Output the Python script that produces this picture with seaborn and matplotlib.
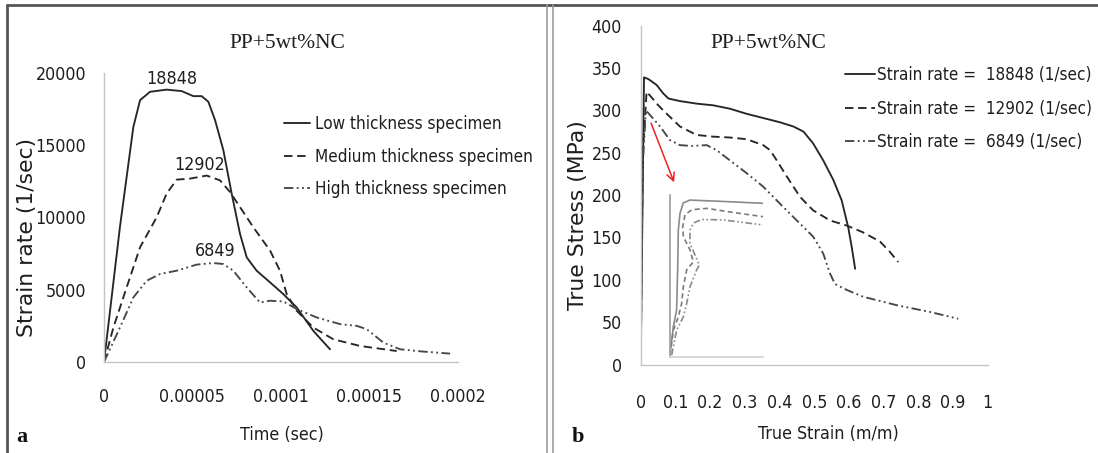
import matplotlib
matplotlib.use("Agg")
import matplotlib.pyplot as plt
from matplotlib.lines import Line2D
from matplotlib.font_manager import FontProperties, fontManager
from matplotlib.textpath import TextPath
import seaborn as sns

# ---------------- data ----------------
title_text = "PP+5wt%NC"

# panel a : strain rate vs time
time_low = [0, 9.0e-6, 1.66e-5, 2.04e-5, 2.6e-5, 3.54e-5, 4.39e-5, 5.05e-5, 5.52e-5, 5.9e-5,
            6.28e-5, 6.75e-5, 7.22e-5, 7.69e-5, 8.07e-5, 8.63e-5, 9.39e-5, 1.014e-4, 1.09e-4,
            1.184e-4, 1.278e-4]
rate_low = [0, 9330, 16270, 18120, 18700, 18848, 18750, 18400, 18400, 18010,
            16740, 14650, 11650, 8870, 7240, 6320, 5510, 4700, 3770, 2150, 880]

time_med = [0, 5.3e-6, 1.28e-5, 2.04e-5, 2.98e-5, 3.54e-5, 4.11e-5, 4.86e-5, 5.81e-5, 6.56e-5,
            7.13e-5, 7.69e-5, 8.44e-5, 9.39e-5, 9.95e-5, 1.033e-4, 1.09e-4, 1.184e-4, 1.297e-4,
            1.448e-4, 1.655e-4]
rate_med = [0, 2380, 5160, 7940, 10020, 11650, 12620, 12690, 12902, 12570,
            11760, 10720, 9330, 7710, 6320, 4700, 3540, 2380, 1570, 1110, 760]

time_high = [0, 9.0e-6, 1.66e-5, 2.41e-5, 3.17e-5, 4.11e-5, 5.24e-5, 6.18e-5, 6.75e-5, 7.31e-5,
             8.07e-5, 8.82e-5, 9.39e-5, 1.014e-4, 1.09e-4, 1.203e-4, 1.335e-4, 1.429e-4, 1.486e-4,
             1.58e-4, 1.674e-4, 1.806e-4, 1.957e-4]
rate_high = [0, 2380, 4470, 5620, 6090, 6320, 6740, 6849, 6780, 6320,
             5160, 4120, 4240, 4190, 3660, 3080, 2620, 2500, 2270, 1340, 880, 720, 580]

labels_a = ["Low thickness specimen", "Medium thickness specimen", "High thickness specimen"]
peak_labels = ["18848", "12902", "6849"]
peak_label_time = [3.86e-5, 5.38e-5, 6.28e-5]
peak_label_rate = [19580, 13610, 7710]
xticks_a = [0, 0.00005, 0.0001, 0.00015, 0.0002]
xticklabels_a = ["0", "0.00005", "0.0001", "0.00015", "0.0002"]
yticks_a = [0, 5000, 10000, 15000, 20000]

# panel b : true stress vs true strain
strain_18848 = [0, 0.0095, 0.022, 0.046, 0.065, 0.08, 0.113, 0.161, 0.209, 0.257, 0.305, 0.353,
                0.401, 0.44, 0.469, 0.497, 0.526, 0.555, 0.579, 0.598, 0.608, 0.618]
stress_18848 = [0, 339, 337, 330, 320, 314, 311, 308, 306, 302, 296, 291,
                286, 281, 275, 261, 241, 218, 194, 162, 139, 113]

strain_12902 = [0, 0.006, 0.017, 0.03, 0.046, 0.065, 0.113, 0.161, 0.209, 0.257, 0.305, 0.353,
                0.373, 0.392, 0.421, 0.459, 0.497, 0.546, 0.594, 0.641, 0.69, 0.718, 0.742]
stress_12902 = [0, 250, 322, 316, 308, 300, 281, 271, 269, 268, 266, 259,
                253, 241, 222, 198, 182, 170, 164, 156, 145, 133, 121]

strain_6849 = [0, 0.005, 0.015, 0.056, 0.084, 0.113, 0.147, 0.19, 0.219, 0.257, 0.305, 0.353,
               0.401, 0.45, 0.497, 0.526, 0.546, 0.56, 0.594, 0.641, 0.738, 0.834, 0.915]
stress_6849 = [0, 230, 300, 281, 265, 259, 258, 259, 253, 241, 226, 210,
               190, 170, 151, 131, 107, 95, 88, 80, 70, 62, 54]

labels_b = ["Strain rate =  18848 (1/sec)", "Strain rate =  12902 (1/sec)",
            "Strain rate =  6849 (1/sec)"]
xticks_b = [0, 0.1, 0.2, 0.3, 0.4, 0.5, 0.6, 0.7, 0.8, 0.9, 1.0]
xticklabels_b = ["0", "0.1", "0.2", "0.3", "0.4", "0.5", "0.6", "0.7", "0.8", "0.9", "1"]
yticks_b = [0, 50, 100, 150, 200, 250, 300, 350, 400]

# inset (zoom of the elastic region, relative units)
inset_x_solid = [0, 0.036, 0.071, 0.082, 0.089, 0.107, 0.143, 0.214, 0.571, 1.0]
inset_y_solid = [3, 65, 101, 188, 274, 310, 333, 339, 336, 332]
inset_x_dash = [0, 0.036, 0.089, 0.125, 0.143, 0.179, 0.25, 0.214, 0.143, 0.136, 0.161, 0.232,
                0.393, 0.75, 1.0]
inset_y_dash = [3, 57, 86, 115, 151, 188, 205, 231, 260, 281, 307, 318, 321, 310, 303]
inset_x_dd = [0.018, 0.071, 0.143, 0.179, 0.214, 0.286, 0.314, 0.268, 0.214, 0.214, 0.25, 0.34,
              0.571, 1.0]
inset_y_dd = [3, 57, 86, 115, 151, 188, 198, 220, 245, 274, 289, 297, 296, 285]
inset_yticks = [0, 50, 100, 150, 200, 250, 300, 350]

# red arrow (data coords of panel b)
arrow_tail = (0.027, 288)
arrow_head = (0.099, 212)

# ---------------- style ----------------
sns.set_theme(style="white")
plt.rcParams["font.family"] = ["Liberation Sans", "DejaVu Sans"]
plt.rcParams["axes.unicode_minus"] = False


def find_narrow():
    best = None
    for f in fontManager.ttflist:
        nm = f.name.lower()
        fn = f.fname.lower()
        bad = any(k in fn for k in ("bold", "italic", "oblique", "mono"))
        if bad:
            continue
        if "liberation sans narrow" in nm or "liberationsansnarrow" in fn:
            return f.fname
        if ("condensed" in fn or "narrow" in fn or "condensed" in nm) and best is None:
            best = f.fname
    return best


narrow_path = find_narrow()
if narrow_path:
    BASE_FP = FontProperties(fname=narrow_path)
else:
    BASE_FP = FontProperties(family="Liberation Sans")


def calib(text, target_px, prop, cap=None):
    tp = TextPath((0, 0), text, size=100, prop=prop)
    s = 100 * (target_px * 0.72) / tp.get_extents().width
    return min(s, cap) if cap else s


TICK_FS = calib("20000", 48.7, BASE_FP, cap=16)
LEG_FS = calib("Strain rate =  18848 (1/sec)", 213, BASE_FP, cap=16)
FS_PX = TICK_FS * 100 / 72
LEG_PX = LEG_FS * 100 / 72


def fp(size=None):
    p = BASE_FP.copy()
    p.set_size(size if size else TICK_FS)
    return p


YLAB_FP = FontProperties(family=["DejaVu Sans"])
YLAB_FS = calib("Strain rate (1/sec)", 195, YLAB_FP)

W, H = 1098, 453
fig = plt.figure(figsize=(W / 100, H / 100), dpi=100)
fig.patch.set_facecolor("white")


def fr(px, py, w, h):
    return [px / W, 1 - (py + h) / H, w / W, h / H]


AX_COL = "#c4c4c4"
TXT_COL = "#1e1e1e"
LINE_COL = "#262626"

styles = [
    dict(color=LINE_COL, linestyle="-", lw=1.35),
    dict(color=LINE_COL, linestyle=(0, (4.5, 2.5)), lw=1.35),
    dict(color="#474747", linestyle=(0, (5, 1.8, 1, 1.8, 1, 1.8)), lw=1.35),
]


def style_axes(ax, xpad_px, ypad_px):
    for s in ["top", "right"]:
        ax.spines[s].set_visible(False)
    for s in ["left", "bottom"]:
        ax.spines[s].set_color(AX_COL)
        ax.spines[s].set_linewidth(1.0)
    ax.tick_params(axis="both", direction="out", length=5, width=1, color=AX_COL,
                   labelcolor=TXT_COL)
    ax.tick_params(axis="x", pad=xpad_px * 0.72)
    ax.tick_params(axis="y", pad=ypad_px * 0.72)
    for lab in ax.get_xticklabels() + ax.get_yticklabels():
        lab.set_fontproperties(fp())
    ax.set_facecolor("white")


# ---------------- panel a ----------------
axL = fig.add_axes(fr(104, 73, 353.7, 289))
series_a = [(time_low, rate_low), (time_med, rate_med), (time_high, rate_high)]
for (xs, ys), lab, st in zip(series_a, labels_a, styles):
    sns.lineplot(x=xs, y=ys, ax=axL, sort=False, estimator=None, label=lab, **st)
axL.set_xlim(0, 0.0002)
axL.set_ylim(0, 20000)
axL.set_xticks(xticks_a)
axL.set_xticklabels(xticklabels_a)
axL.set_yticks(yticks_a)
axL.set_yticklabels([str(v) for v in yticks_a])
style_axes(axL, xpad_px=FS_PX * 0.1 + 17, ypad_px=11)
for lab, tx, ty in zip(peak_labels, peak_label_time, peak_label_rate):
    axL.text(tx, ty, lab, ha="center", va="center", fontproperties=fp(), color=TXT_COL)
axL.set_xlabel("Time (sec)", fontproperties=fp(), color=TXT_COL)
axL.xaxis.set_label_coords(0.503, -0.22)
axL.set_ylabel("Strain rate (1/sec)", fontproperties=YLAB_FP, fontsize=YLAB_FS, color=TXT_COL)
axL.yaxis.set_label_coords(-0.19, 0.43)
legL = axL.legend(loc="upper left", bbox_to_anchor=(284 / W, 1 - 115 / H),
                  bbox_transform=fig.transFigure, frameon=False, prop=fp(LEG_FS),
                  handlelength=26 / LEG_PX, handletextpad=5 / LEG_PX,
                  labelspacing=14.5 / LEG_PX, borderpad=0, borderaxespad=0)
for t in legL.get_texts():
    t.set_color(TXT_COL)
fig.text(287 / W, 1 - 43 / H, title_text, ha="center", va="center", fontsize=15.5,
         family="Liberation Serif", color=TXT_COL)

# ---------------- panel b ----------------
axR = fig.add_axes(fr(640.7, 25.7, 347, 338.8))
series_b = [(strain_18848, stress_18848), (strain_12902, stress_12902), (strain_6849, stress_6849)]
for (xs, ys), lab, st in zip(series_b, labels_b, styles):
    sns.lineplot(x=xs, y=ys, ax=axR, sort=False, estimator=None, label=lab, **st)
axR.set_xlim(0, 1)
axR.set_ylim(0, 400)
axR.set_xticks(xticks_b)
axR.set_xticklabels(xticklabels_b)
axR.set_yticks(yticks_b)
axR.set_yticklabels([str(v) for v in yticks_b])
style_axes(axR, xpad_px=FS_PX * 0.1 + 21, ypad_px=12)
axR.set_xlabel("True Strain (m/m)", fontproperties=fp(), color=TXT_COL)
axR.xaxis.set_label_coords(0.54, -0.18)
axR.set_ylabel("True Stress (MPa)", fontproperties=YLAB_FP, fontsize=YLAB_FS, color=TXT_COL)
axR.yaxis.set_label_coords(-0.152, 0.44)
legR = axR.legend(loc="upper left", bbox_to_anchor=(845 / W, 1 - 66 / H),
                  bbox_transform=fig.transFigure, frameon=False, prop=fp(LEG_FS),
                  handlelength=30 / LEG_PX, handletextpad=2 / LEG_PX,
                  labelspacing=15.5 / LEG_PX, borderpad=0, borderaxespad=0)
for t in legR.get_texts():
    t.set_color(TXT_COL)
fig.text(768 / W, 1 - 43 / H, title_text, ha="center", va="center", fontsize=15.5,
         family="Liberation Serif", color=TXT_COL)

axR.annotate("", xy=arrow_head, xytext=arrow_tail,
             arrowprops=dict(arrowstyle="->", color="#ee2222", lw=1.1, mutation_scale=14))

# ---------------- inset ----------------
axI = fig.add_axes(fr(670, 195, 93.3, 161.5))
inset_styles = [
    dict(color="#8a8a8a", linestyle="-", lw=1.2),
    dict(color="#7a7a7a", linestyle=(0, (3, 2)), lw=1.2),
    dict(color="#8a8a8a", linestyle=(0, (4, 1.5, 1, 1.5, 1, 1.5)), lw=1.2),
]
for xs, ys, st in zip([inset_x_solid, inset_x_dash, inset_x_dd],
                      [inset_y_solid, inset_y_dash, inset_y_dd], inset_styles):
    sns.lineplot(x=xs, y=ys, ax=axI, sort=False, estimator=None, **st)
axI.set_xlim(0, 1)
axI.set_ylim(0, 350)
axI.patch.set_alpha(0)
for s in ["top", "right"]:
    axI.spines[s].set_visible(False)
axI.spines["left"].set_color("#a0a0a0")
axI.spines["bottom"].set_color("#d4d4d4")
axI.set_yticks(inset_yticks)
axI.set_xticks([])
axI.tick_params(axis="y", direction="out", length=5, color="#c8c8c8", labelleft=False)

# ---------------- panel letters and frame ----------------
fig.text(22 / W, 1 - 437 / H, "a", ha="center", va="center", fontsize=16, fontweight="bold",
         family="Liberation Serif", color="#111111")
fig.text(578 / W, 1 - 437 / H, "b", ha="center", va="center", fontsize=16, fontweight="bold",
         family="Liberation Serif", color="#111111")


def fline(x0, y0, x1, y1, col, lw):
    fig.add_artist(Line2D([x0 / W, x1 / W], [1 - y0 / H, 1 - y1 / H], color=col, lw=lw,
                          transform=fig.transFigure))


fline(7, 5, 1098, 5, "#555555", 2.0)
fline(7, 5, 7, 453, "#555555", 2.0)
fline(547, 5, 547, 453, "#9a9a9a", 1.2)
fline(553, 5, 553, 453, "#9a9a9a", 1.2)

fig.savefig("out.png", dpi=100, facecolor="white")
